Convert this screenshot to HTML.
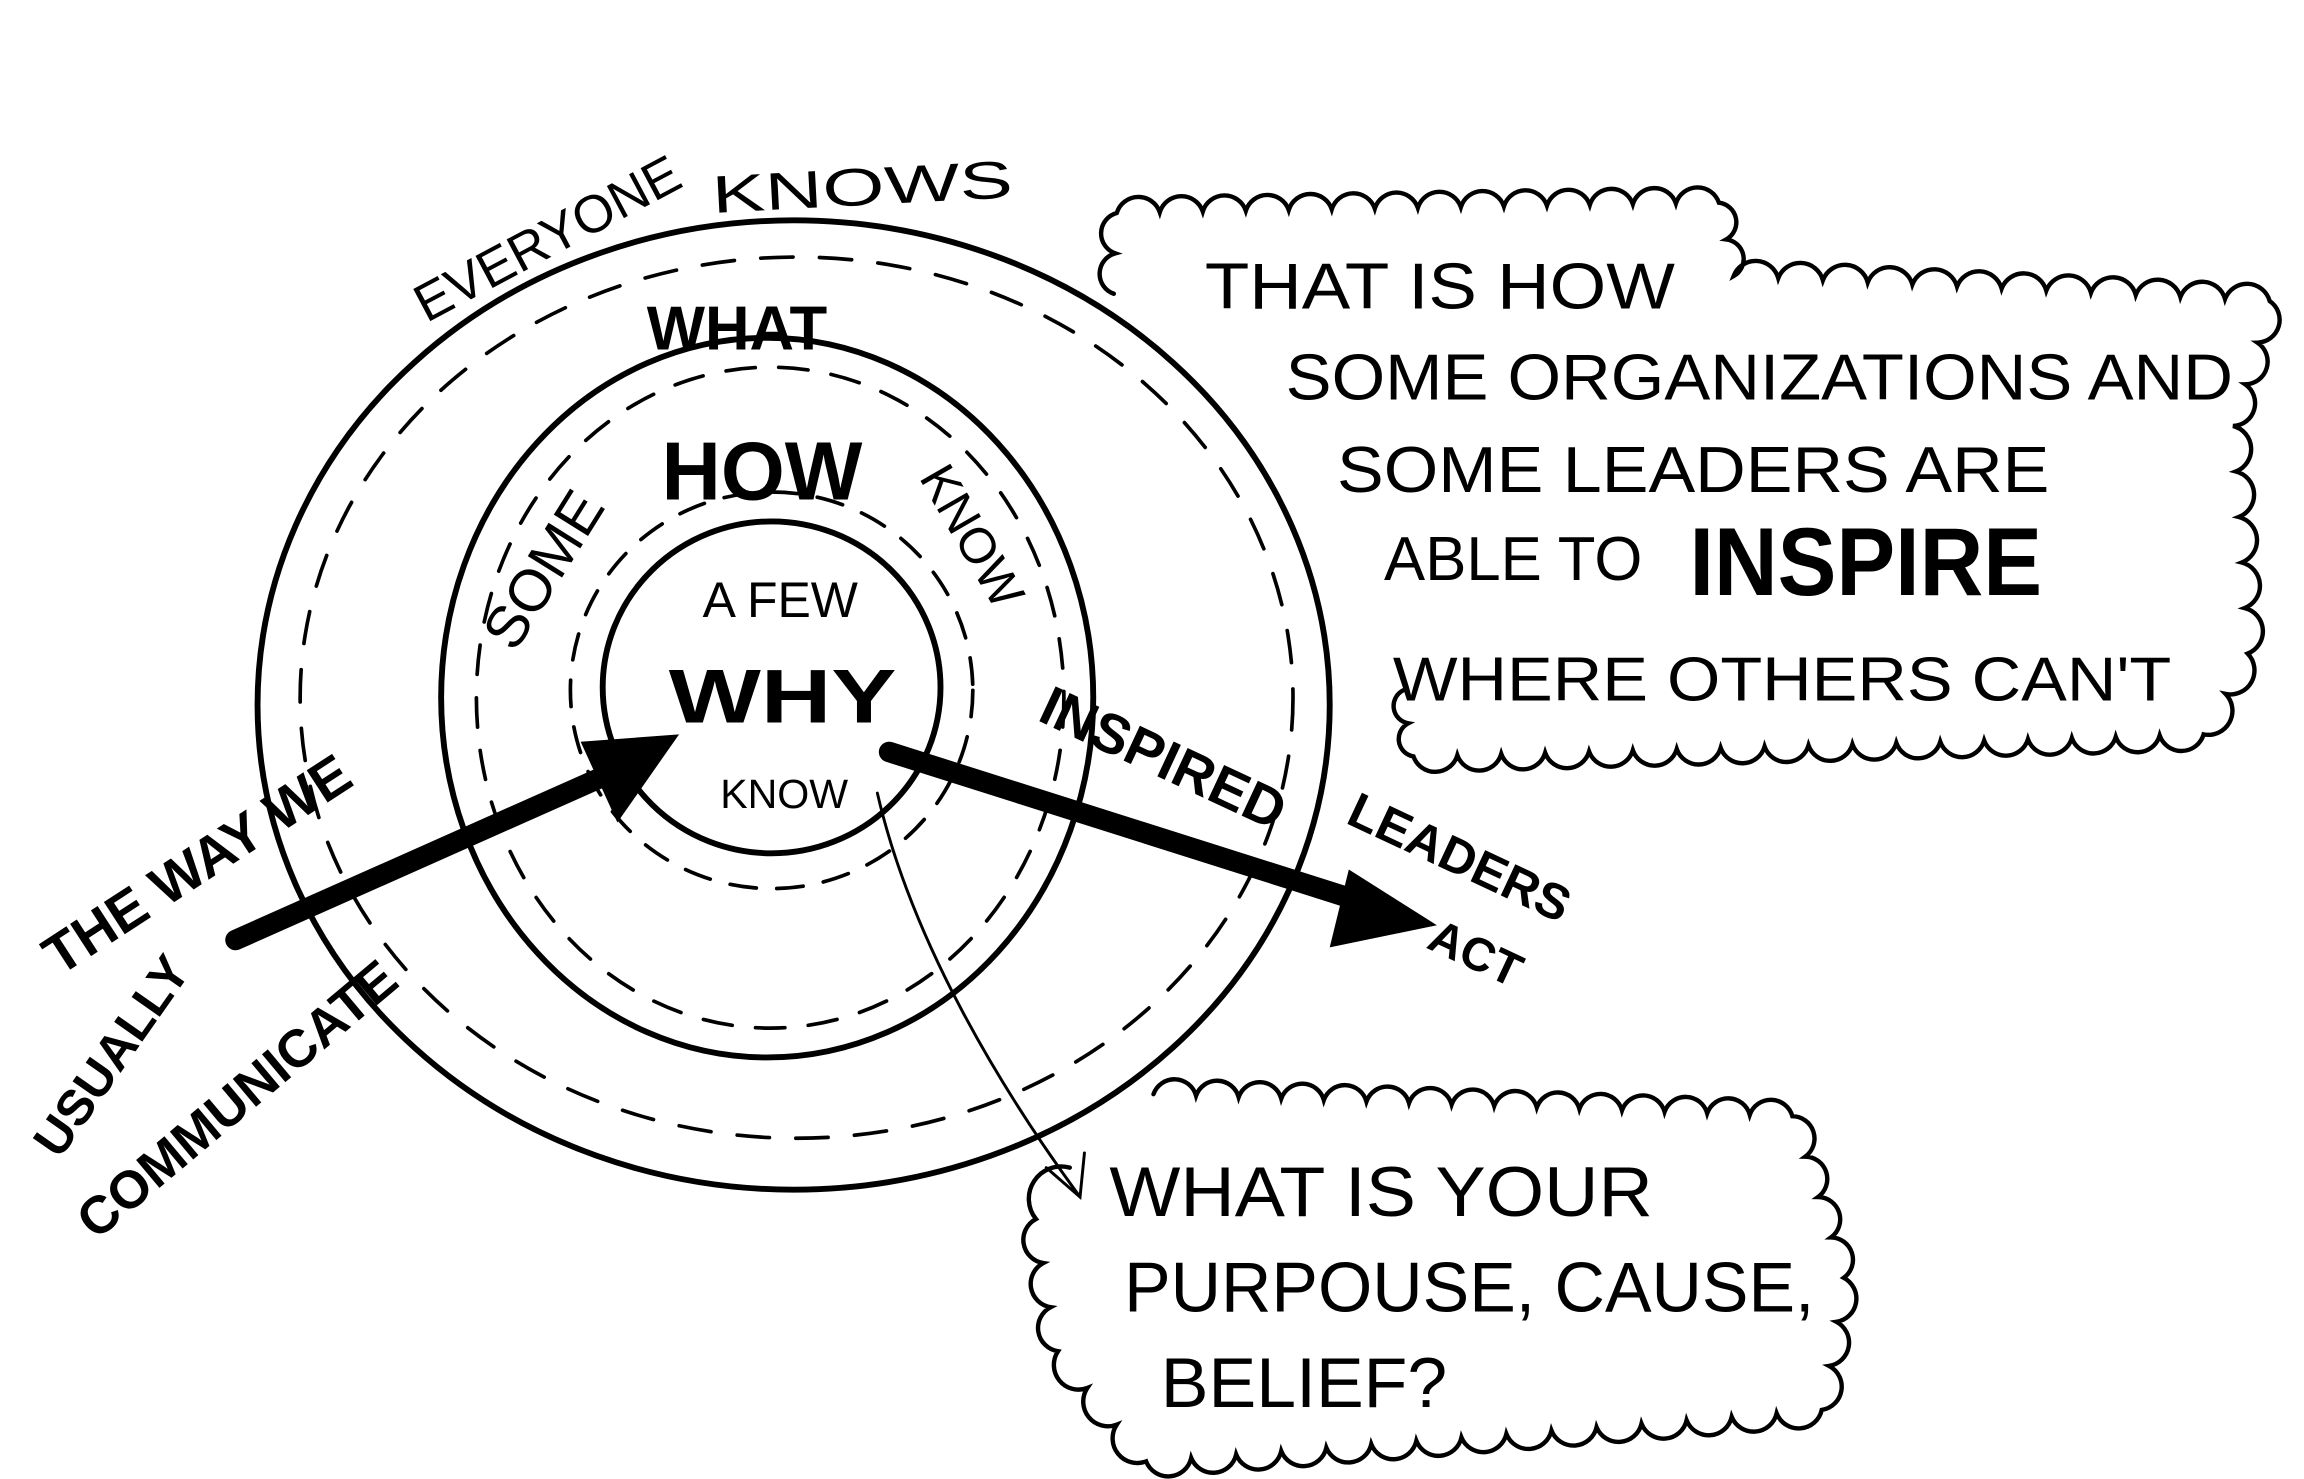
<!DOCTYPE html>
<html><head><meta charset="utf-8"><style>
html,body{margin:0;padding:0;background:#fff;}
svg{display:block}
text{font-family:"Liberation Sans",sans-serif;fill:#000;}
</style></head><body>
<svg id="s" width="2304" height="1479" viewBox="0 0 1568 1007" xmlns="http://www.w3.org/2000/svg">
<g fill="none" stroke="#000" stroke-linecap="round">
<ellipse cx="540" cy="480" rx="365" ry="330" stroke-width="4"/>
<ellipse cx="542" cy="475" rx="338" ry="300" stroke-width="2.5" stroke-dasharray="22 18"/>
<ellipse cx="522" cy="475" rx="222" ry="245" stroke-width="4"/>
<ellipse cx="524" cy="475" rx="200" ry="225" stroke-width="2.5" stroke-dasharray="20 16"/>
<ellipse cx="525" cy="468" rx="115" ry="113" stroke-width="4"/>
<ellipse cx="525" cy="470" rx="137" ry="135" stroke-width="2.5" stroke-dasharray="18 14"/>
<path d="M160 640 L430 520" stroke-width="14"/>
<path d="M605 512 L930 615" stroke-width="14"/>
<path d="M597 540 C620 640 680 740 735 815" stroke-width="2"/>
<path d="M712 795 L735 815 L738 785" stroke-width="2"/>
<path id="c1" stroke-width="3"/>
<path id="c2" stroke-width="3"/>
</g>
<polygon points="395,505 462,500 420,560" fill="#000"/>
<polygon points="918,592 978,630 905,645" fill="#000"/>
<g font-size="40" lengthAdjust="spacingAndGlyphs">
<text x="290" y="220" transform="rotate(-28 290 220)" font-size="36">EVERYONE</text>
<text x="485" y="145" transform="rotate(-3 485 145)" font-size="36" textLength="205" lengthAdjust="spacingAndGlyphs">KNOWS</text>
<text x="440" y="238" font-size="42" font-weight="bold">WHAT</text>
<text x="450" y="340" font-size="56" font-weight="bold">HOW</text>
<text x="350" y="445" transform="rotate(-58 350 445)" font-size="40">SOME</text>
<text x="625" y="325" transform="rotate(60 625 325)" font-size="34">KNOW</text>
<text x="478" y="420" font-size="34">A FEW</text>
<text x="455" y="492" font-size="52" font-weight="bold" textLength="155" lengthAdjust="spacingAndGlyphs">WHY</text>
<text x="490" y="550" font-size="28">KNOW</text>
<text x="40" y="665" transform="rotate(-33 40 665)" font-size="38" font-weight="bold">THE WAY WE</text>
<text x="40" y="790" transform="rotate(-55 40 790)" font-size="34" font-weight="bold">USUALLY</text>
<text x="65" y="845" transform="rotate(-40 65 845)" font-size="36" font-weight="bold">COMMUNICATE</text>
<text x="705" y="490" transform="rotate(25 705 490)" font-size="38" font-weight="bold">INSPIRED</text>
<text x="915" y="560" transform="rotate(25 915 560)" font-size="34" font-weight="bold">LEADERS</text>
<text x="970" y="645" transform="rotate(25 970 645)" font-size="32" font-weight="bold">ACT</text>
<text x="820" y="210" font-size="44" textLength="320" lengthAdjust="spacingAndGlyphs">THAT IS HOW</text>
<text x="875" y="272" font-size="44" textLength="645" lengthAdjust="spacingAndGlyphs">SOME ORGANIZATIONS AND</text>
<text x="910" y="335" font-size="44" textLength="485" lengthAdjust="spacingAndGlyphs">SOME LEADERS  ARE</text>
<text x="942" y="395" font-size="42">ABLE TO</text>
<text x="1150" y="405" font-size="66" font-weight="bold" textLength="240" lengthAdjust="spacingAndGlyphs">INSPIRE</text>
<text x="948" y="477" font-size="42" textLength="530" lengthAdjust="spacingAndGlyphs">WHERE OTHERS CAN'T</text>
<text x="755" y="828" font-size="48" textLength="370" lengthAdjust="spacingAndGlyphs">WHAT IS YOUR</text>
<text x="765" y="893" font-size="48" textLength="470" lengthAdjust="spacingAndGlyphs">PURPOUSE, CAUSE,</text>
<text x="790" y="958" font-size="48" textLength="195" lengthAdjust="spacingAndGlyphs">BELIEF?</text>
</g>
</svg>
<script>
function cloud(pts,step,closed){
 var d="M"+pts[0][0]+" "+pts[0][1];
 var n=pts.length-(closed?0:1);
 for(var i=0;i<n;i++){
  var a=pts[i],b=pts[(i+1)%pts.length];
  var dx=b[0]-a[0],dy=b[1]-a[1],L=Math.hypot(dx,dy);
  var k=Math.max(1,Math.round(L/step));
  for(var j=1;j<=k;j++){
   var x=a[0]+dx*j/k,y=a[1]+dy*j/k,r=L/k/2*1.05;
   d+=" A"+r.toFixed(1)+" "+r.toFixed(1)+" 0 0 1 "+x.toFixed(1)+" "+y.toFixed(1);
  }
 }
 return d;
}
document.getElementById("c1").setAttribute("d",cloud([[758,200],[760,145],[1170,138],[1180,188],[1545,205],[1520,290],[1530,445],[1500,500],[962,515],[955,470]],30,false));
document.getElementById("c2").setAttribute("d",cloud([[785,745],[1220,760],[1255,870],[1240,960],[780,995],[720,920],[705,830],[728,795]],30,false));
</script>
</body></html>
